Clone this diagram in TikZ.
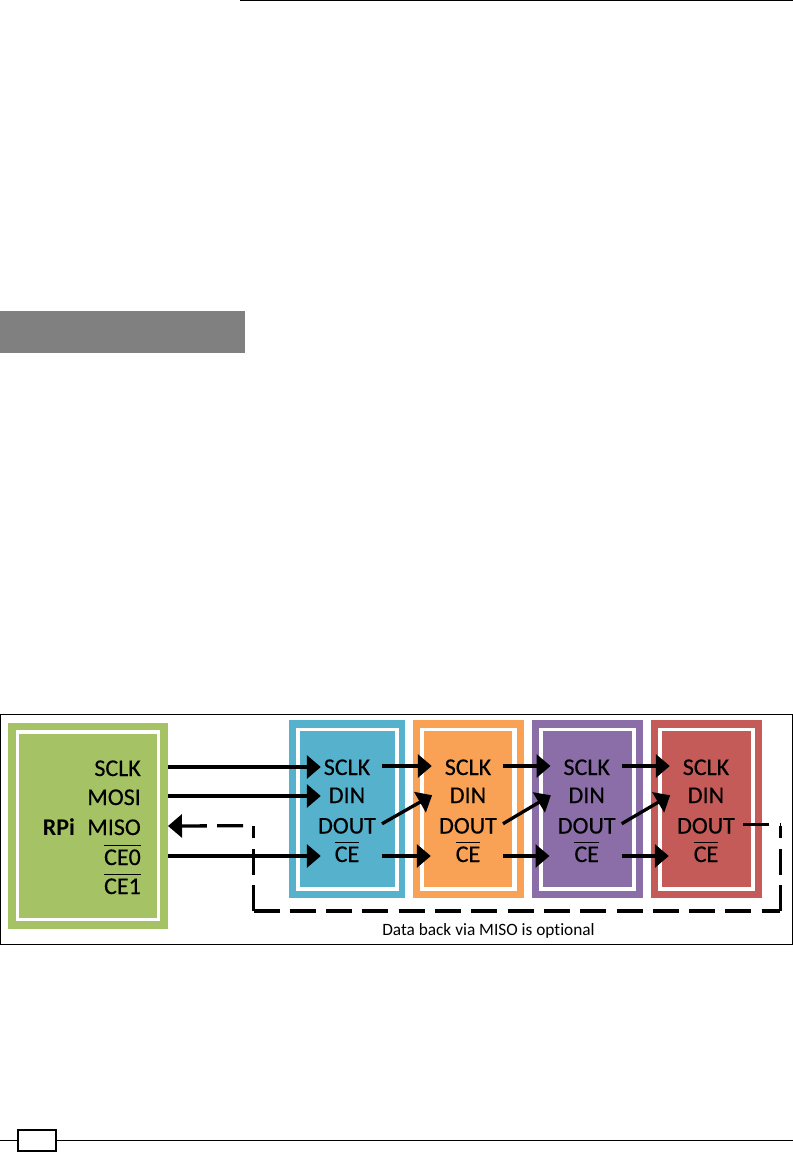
\documentclass[tikz,border=0pt]{standalone}
\usepackage{fontspec}
\setmainfont[Ligatures=NoCommon]{Carlito}
\newfontfamily\pinfont[FakeBold=0.3]{Carlito}
\usetikzlibrary{arrows.meta}
\definecolor{cgreen}{HTML}{A5C264}
\definecolor{cblue}{HTML}{55B1CC}
\definecolor{corange}{HTML}{F9A154}
\definecolor{cpurple}{HTML}{8B6DA8}
\definecolor{cred}{HTML}{C55B58}
\definecolor{cgrey}{HTML}{808080}
\newcommand\ovl[1]{\leavevmode\vbox{\hrule height 1.3pt\kern 3.4pt\hbox{#1}}}
\tikzset{
  pin/.style={font=\pinfont\fontsize{24}{24}\selectfont,inner sep=0pt,minimum width=67pt,text height=18pt,text depth=0pt,anchor=center},
  cepin/.style={pin,text height=12pt},
  rpipin/.style={font=\pinfont\fontsize{24}{24}\selectfont,inner ysep=0pt,inner xsep=27pt,text height=18pt,text depth=0pt,anchor=east},
  bighead/.style={-{Triangle[length=14pt,width=23pt]}},
  sig/.style={line width=3.3pt,bighead,shorten <=1.5pt,shorten >=2.5pt},
  back/.style={line width=3.3pt,dash pattern=on 26pt off 10.3pt}
}
\begin{document}
\begin{tikzpicture}[x=1pt,y=-1pt]
\useasboundingbox (0,0) rectangle (793,1152);
\fill[white] (0,0) rectangle (793,1152);
% page furniture
\draw[line width=1.4pt] (240,0.4) -- (793,0.4);
\fill[cgrey] (0,311) rectangle (245,353);
\draw[line width=1pt] (0,1140.4) -- (793,1140.4);
\draw[line width=2pt,fill=white] (17.7,1129.5) rectangle (56,1150.5);
% frame
\draw[line width=1pt] (0.5,714.5) rectangle (792.5,944);
% RPi
\fill[cgreen] (8,723) rectangle (168,929);
\fill[white] (16,730) rectangle (160,921);
\fill[cgreen] (19,734) rectangle (157,918);
% blue
\fill[cblue] (289,720) rectangle (405,898);
\fill[white] (296,727.5) rectangle (399,891);
\fill[cblue] (300,731) rectangle (394.5,887);
% orange
\fill[corange] (412.5,720) rectangle (523.5,898);
\fill[white] (419.5,727.5) rectangle (516.5,891);
\fill[corange] (424,731) rectangle (512,887);
% purple
\fill[cpurple] (532,720) rectangle (643,898);
\fill[white] (539,727.5) rectangle (636,891);
\fill[cpurple] (543,731) rectangle (632,887);
% red
\fill[cred] (651,720) rectangle (762,898);
\fill[white] (658,727.5) rectangle (755,891);
\fill[cred] (662,731) rectangle (751,887);
% RPi labels
\node[rpipin] (rsclk) at (168,767) {SCLK};
\node[rpipin] (rmosi) at (168,796) {MOSI};
\node[rpipin] (rmiso) at (168,826) {MISO};
\node[rpipin] (rceo) at (168,856) {\ovl{CE0}};
\node[rpipin] (rcei) at (168,885) {\ovl{CE1}};
\node[font=\fontsize{24}{24}\selectfont\bfseries,inner sep=0pt,text height=18pt,text depth=0pt] (rpi) at (59,826) {RPi};
% chip labels
\foreach \n/\x in {a/347,b/468,c/586.7,d/706}{
  \node[pin] (\n sclk) at (\x,766) {SCLK};
  \node[pin] (\n din) at (\x,794) {DIN};
  \node[pin] (\n dout) at (\x,824.5) {DOUT};
  \node[cepin] (\n ce) at (\x,856) {\ovl{CE}};
}
% connectors
\draw[sig,shorten <=0pt,shorten >=-7.5pt] (rsclk.east) -- (rsclk.east -| asclk.west);
\draw[sig,shorten <=0pt,shorten >=-7.5pt] (rmosi.east) -- (rmosi.east -| adin.west);
\draw[sig,shorten <=0pt,shorten >=-7.5pt] (rceo.east) -- (rceo.east -| ace.west);
\foreach \p/\q in {a/b,b/c,c/d}{
  \draw[sig] (\p sclk.east) -- (\q sclk.west);
  \draw[sig] (\p dout.east) -- (\q din.west);
  \draw[sig,shorten >=3.5pt] (\p ce.east) -- (\q ce.west);
}
\coordinate (corner1) at (780.3,825.5);
\coordinate (corner2) at (780.3,911);
\coordinate (corner3) at (253.5,911);
\coordinate (corner4) at (253.5,825.7);
\draw[back,shorten <=3.5pt] (ddout.east) -- (ddout.east -| corner1);
\draw[back] (corner2) -- (corner1);
\draw[back] (corner3) -- (corner2);
\draw[back] (corner3) -- (corner4);
\draw[back,dash phase=26pt,bighead] (corner4) -- (rmiso.east);
\node[font=\fontsize{17.3}{17.3}\selectfont,inner sep=0pt,anchor=base] (note) at (488.5,935) {Data back via MISO is optional};
\end{tikzpicture}
\end{document}
